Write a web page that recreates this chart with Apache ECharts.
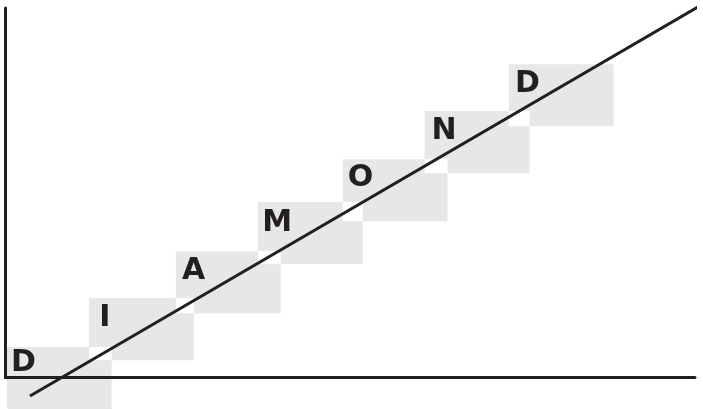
<!DOCTYPE html>
<html>
<head>
<meta charset="utf-8">
<script src="https://cdn.jsdelivr.net/npm/echarts@6/dist/echarts.min.js"></script>
<style>
  html, body { margin: 0; padding: 0; background: #fff; }
  #chart { width: 703px; height: 410px; }
</style>
</head>
<body>
<div id="chart"></div>
<script>
// letters of the staircase
var letters = ['D', 'I', 'A', 'M', 'O', 'N', 'D']
// grey step boxes, top-left corner in axis units (0..100)
var boxLeft = [0.2, 12.1, 24.7, 36.6, 48.9, 60.8, 73.0]
var boxTop = [8.25, 21.5, 34.2, 47.5, 59.1, 72.1, 84.8]
var boxWidth = 15.2
var boxHeight = 16.8
// letter anchors (centre x, cap top y) in axis units
var letterX = [2.6, 14.4, 27.3, 39.4, 51.5, 63.6, 75.7]
var letterY = [6.9, 19.1, 31.8, 44.8, 56.8, 69.7, 82.4]
// the straight trend line
var trendLine = [[3.55, -5.0], [101.2, 101.1]]

var ink = '#231f20'
var grey = '#e6e7e8'

var chart = echarts.init(document.getElementById('chart'), null, { renderer: 'canvas' })

var boxData = boxLeft.map(function (x, i) { return [x, boxTop[i], i] })
var letterData = letterX.map(function (x, i) { return [x, letterY[i], i] })

var hiddenAxis = {
    type: 'value',
    min: 0,
    max: 100,
    z: 5,
    axisLine: { show: true, onZero: false, lineStyle: { color: ink, width: 3 } },
    axisTick: { show: false },
    axisLabel: { show: false },
    splitLine: { show: false }
}

chart.setOption({
    animation: false,
    grid: { left: 5.5, right: 8, top: 8, bottom: 32.5 },
    xAxis: hiddenAxis,
    yAxis: hiddenAxis,
    series: [
        {
            type: 'custom',
            z: 1,
            clip: false,
            data: boxData,
            renderItem: function (params, api) {
                var x = api.value(0), y = api.value(1)
                var p0 = api.coord([x, y])
                var p1 = api.coord([x + boxWidth, y - boxHeight])
                return {
                    type: 'rect',
                    shape: { x: p0[0], y: p0[1], width: p1[0] - p0[0], height: p1[1] - p0[1] },
                    style: { fill: grey }
                }
            }
        },
        {
            // where two steps overlap the fill cancels out
            type: 'custom',
            z: 2,
            clip: false,
            data: boxData.slice(1),
            renderItem: function (params, api) {
                var i = api.value(2)
                var x0 = boxLeft[i], y0 = boxTop[i] - boxHeight
                var x1 = boxLeft[i - 1] + boxWidth, y1 = boxTop[i - 1]
                var p0 = api.coord([x0, y1])
                var p1 = api.coord([x1, y0])
                return {
                    type: 'rect',
                    shape: { x: p0[0], y: p0[1], width: p1[0] - p0[0], height: p1[1] - p0[1] },
                    style: { fill: '#ffffff' }
                }
            }
        },
        {
            // letters drawn as plain text elements so no label styling is inherited
            type: 'custom',
            z: 6,
            clip: false,
            data: letterData,
            renderItem: function (params, api) {
                var p = api.coord([api.value(0), api.value(1)])
                return {
                    type: 'text',
                    x: p[0],
                    y: p[1] - 4,
                    style: {
                        text: letters[api.value(2)],
                        fill: ink,
                        align: 'center',
                        verticalAlign: 'top',
                        font: 'bold 30px "DejaVu Sans"'
                    }
                }
            }
        },
        {
            type: 'line',
            z: 10,
            clip: false,
            symbol: 'none',
            data: trendLine,
            lineStyle: { color: ink, width: 3 }
        }
    ]
})
</script>
</body>
</html>
